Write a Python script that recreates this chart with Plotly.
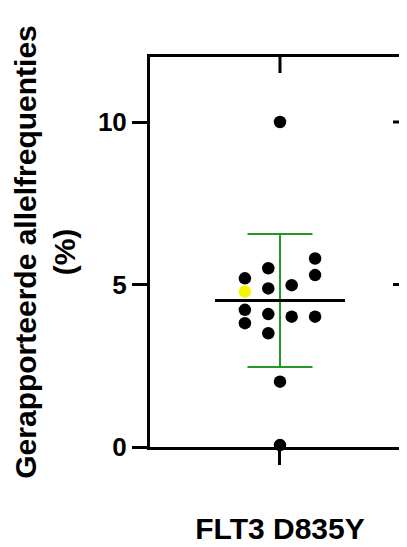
import numpy as np
import plotly.graph_objects as go

category = "FLT3 D835Y"
values = [10.0, 5.80, 5.29, 5.50, 5.19, 4.78, 4.88, 4.98, 4.22, 3.81, 4.09, 4.01, 4.01, 3.50, 2.01, 0.06]
x_offsets = [0, 0.27, 0.27, -0.09, -0.27, -0.27, -0.09, 0.09, -0.27, -0.27, -0.09, 0.09, 0.27, -0.09, 0, 0]
point_colors = ["#000000"] * 5 + ["#f5f500"] + ["#000000"] * 10
y_ticks = [0, 5, 10]
y_title = "Gerapporteerde allelfrequenties<br>(%)"

mean = float(np.mean(values))
sd = float(np.std(values, ddof=1))
cat_pos = 0

fig = go.Figure()

# SD error bar (green)
fig.add_trace(go.Scatter(
    x=[cat_pos, cat_pos], y=[mean - sd, mean + sd], mode="lines",
    line=dict(color="#229922", width=2), hoverinfo="skip", showlegend=False))
for yv in (mean - sd, mean + sd):
    fig.add_trace(go.Scatter(
        x=[cat_pos - 0.25, cat_pos + 0.25], y=[yv, yv], mode="lines",
        line=dict(color="#229922", width=2), hoverinfo="skip", showlegend=False))

# points
fig.add_trace(go.Scatter(
    x=[cat_pos + o for o in x_offsets], y=values, mode="markers",
    marker=dict(size=12.5, color=point_colors, line=dict(width=0)),
    cliponaxis=False, showlegend=False))

# mean line
fig.add_trace(go.Scatter(
    x=[cat_pos - 0.5, cat_pos + 0.5], y=[mean, mean], mode="lines",
    line=dict(color="black", width=3), hoverinfo="skip", showlegend=False))

# top inward tick and right-side ticks
fig.add_shape(type="line", xref="x", yref="paper", x0=cat_pos, x1=cat_pos,
              ysizemode="pixel", yanchor=1, y0=0, y1=-16,
              line=dict(color="black", width=3))
for t in y_ticks[1:]:
    fig.add_shape(type="line", yref="y", xref="paper", y0=t, y1=t,
                  xsizemode="pixel", xanchor=1, x0=-14, x1=0,
                  line=dict(color="black", width=3))

fig.update_layout(
    width=399, height=539,
    margin=dict(l=142, r=0, t=49, b=100),
    paper_bgcolor="white", plot_bgcolor="white",
    font=dict(family="Liberation Sans, Arial, sans-serif", color="black"),
    xaxis=dict(range=[-1, 0.977], showgrid=False, zeroline=False, automargin=False,
               showline=True, linecolor="black", linewidth=3, mirror=True,
               ticks="outside", ticklen=15, tickwidth=3, tickcolor="black",
               tickvals=[cat_pos], ticktext=[category],
               ticklabelstandoff=38,
               tickfont=dict(family="Liberation Sans, Arial, sans-serif", size=30, weight="bold")),
    yaxis=dict(range=[0, 12], showgrid=False, zeroline=False, automargin=False,
               showline=True, linecolor="black", linewidth=3,
               ticks="outside", ticklen=15, tickwidth=3, tickcolor="black",
               tickvals=y_ticks,
               tickfont=dict(family="Liberation Sans, Arial, sans-serif", size=26, weight="bold"),
               title=dict(text=y_title, standoff=14,
                          font=dict(family="Liberation Sans, Arial, sans-serif", size=30, weight="bold"))),
)

fig.write_html("out.html")
